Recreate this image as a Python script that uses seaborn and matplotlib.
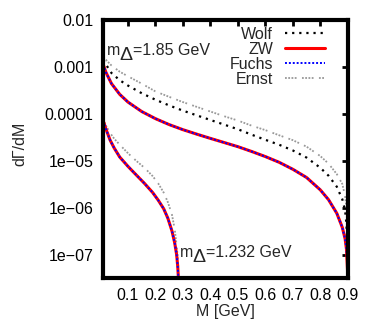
import seaborn as sns
import pandas as pd
import matplotlib.pyplot as plt
from matplotlib.ticker import FixedLocator, NullLocator

# m_Delta = 1.85 GeV
mass_185 = [0.01, 0.02, 0.04, 0.07, 0.1, 0.15, 0.2, 0.25, 0.3, 0.35, 0.4, 0.45, 0.5,
            0.55, 0.6, 0.65, 0.7, 0.75, 0.8, 0.83, 0.86, 0.88, 0.89, 0.895, 0.899]
wolf_185 = [1.41e-3, 1.12e-3, 7.4e-4, 5.2e-4, 4.0e-4, 2.75e-4, 2.0e-4, 1.51e-4, 1.17e-4,
            9.3e-5, 7.4e-5, 5.9e-5, 4.7e-5, 3.6e-5, 2.8e-5, 2.2e-5, 1.66e-5, 1.17e-5,
            7.1e-6, 4.8e-6, 2.8e-6, 1.51e-6, 8.9e-7, 4.5e-7, 1.0e-7]
zw_185 = [1.12e-3, 7.6e-4, 4.4e-4, 2.6e-4, 1.78e-4, 1.12e-4, 7.9e-5, 5.9e-5, 4.6e-5,
          3.7e-5, 3.0e-5, 2.45e-5, 2.0e-5, 1.58e-5, 1.23e-5, 9.3e-6, 6.6e-6, 4.4e-6,
          2.4e-6, 1.48e-6, 7.6e-7, 3.8e-7, 2.2e-7, 1.32e-7, 4.5e-8]
fuchs_185 = zw_185  # indistinguishable from ZW at this scale
ernst_185 = [1.58e-3, 1.41e-3, 1.07e-3, 7.9e-4, 6.3e-4, 4.4e-4, 3.0e-4, 2.3e-4, 1.78e-4,
             1.41e-4, 1.12e-4, 8.9e-5, 7.2e-5, 5.6e-5, 4.5e-5, 3.5e-5, 2.75e-5, 2.0e-5,
             1.26e-5, 8.7e-6, 5.2e-6, 3.2e-6, 1.78e-6, 1.0e-6, 4.0e-7]

# m_Delta = 1.232 GeV
mass_1232 = [0.01, 0.02, 0.035, 0.05, 0.07, 0.1, 0.13, 0.16, 0.19, 0.21, 0.23, 0.245,
             0.26, 0.27, 0.277, 0.281, 0.284]
zw_1232 = [7.1e-5, 4.7e-5, 2.75e-5, 1.86e-5, 1.2e-5, 7.6e-6, 5.0e-6, 3.3e-6, 2.1e-6,
           1.45e-6, 9.5e-7, 6.0e-7, 3.2e-7, 1.78e-7, 1.0e-7, 5.6e-8, 2.8e-8]
fuchs_1232 = zw_1232
mass_1232_ernst = [0.01, 0.02, 0.035, 0.05, 0.07, 0.1, 0.13, 0.16, 0.19, 0.21, 0.23,
                   0.245, 0.26, 0.27, 0.277, 0.281, 0.283]
ernst_1232 = [7.6e-5, 5.6e-5, 3.9e-5, 2.95e-5, 2.2e-5, 1.45e-5, 1.0e-5, 7.1e-6, 4.7e-6,
              3.3e-6, 2.1e-6, 1.32e-6, 7.1e-7, 3.5e-7, 1.58e-7, 8.9e-8, 5.6e-8]

y_ticks = [1e-7, 1e-6, 1e-5, 1e-4, 1e-3, 1e-2]
y_tick_labels = ["1e\u221207", "1e\u221206", "1e\u221205", "0.0001", "0.001", "0.01"]
x_ticks = [0.1, 0.2, 0.3, 0.4, 0.5, 0.6, 0.7, 0.8, 0.9]

fs = 11.5
W, H = 374, 327

sns.set_theme(style="white")
plt.rcParams["font.family"] = ["Liberation Sans", "DejaVu Sans"]
plt.rcParams["font.size"] = fs

fig = plt.figure(figsize=(W / 100, H / 100), dpi=100)
ax = fig.add_axes([0.275, 0.150, 0.655, 0.789])

wolf_style = dict(color="black", lw=1.6, dashes=(1, 2.2))
zw_style = dict(color="#ff0000", lw=2.2)
fuchs_style = dict(color="#0000ff", lw=1.4, dashes=(1, 1))
ernst_style = dict(color="#999999", lw=1.3, dashes=(1, 0.8, 1, 0.8, 1, 0.8, 1, 3))

sns.lineplot(x=mass_185, y=wolf_185, ax=ax, label="Wolf", **wolf_style)
sns.lineplot(x=mass_185, y=zw_185, ax=ax, label="ZW", **zw_style)
sns.lineplot(x=mass_185, y=fuchs_185, ax=ax, label="Fuchs", **fuchs_style)
sns.lineplot(x=mass_185, y=ernst_185, ax=ax, label="Ernst", **ernst_style)

sns.lineplot(x=mass_1232_ernst, y=ernst_1232, ax=ax, **ernst_style)
sns.lineplot(x=mass_1232, y=zw_1232, ax=ax, **zw_style)
sns.lineplot(x=mass_1232, y=fuchs_1232, ax=ax, **fuchs_style)

ax.set_yscale("log")
ax.set_xlim(0.0085, 0.9)
ax.set_ylim(3.2e-8, 1e-2)
ax.yaxis.set_major_locator(FixedLocator(y_ticks))
ax.yaxis.set_minor_locator(NullLocator())
ax.set_yticks(y_ticks, y_tick_labels)
ax.set_xticks(x_ticks, [str(v) for v in x_ticks])

for s in ax.spines.values():
    s.set_linewidth(3)
    s.set_color("black")
ax.tick_params(which="both", direction="in", length=4, width=2, top=True, right=True,
               labelsize=fs, colors="black")
ax.tick_params(axis="x", pad=7)
ax.tick_params(axis="y", pad=7)

ax.set_xlabel("M [GeV]", fontsize=fs)
ax.set_ylabel("d\u0393/dM", fontsize=fs)
ax.xaxis.set_label_coords(0.5, -0.1)
ax.yaxis.set_label_coords(-0.31, 0.52)


# m_Delta labels, placed in pixels like the original (m, big subscript Delta, rest)
def mass_label(x, y, rest):
    fig.text(x / W, 1 - y / H, "m", fontsize=fs, va="baseline")
    fig.text((x + 12) / W, 1 - (y + 5) / H, "\u0394", fontsize=14, va="baseline")
    fig.text((x + 26) / W, 1 - y / H, rest, fontsize=fs, va="baseline")


mass_label(107, 55, "=1.85 GeV")
mass_label(180, 257, "=1.232 GeV")

ax.legend(loc="upper right", bbox_to_anchor=(0.94, 1.005), frameon=False,
          markerfirst=False, handlelength=2.5, handletextpad=0.75,
          labelspacing=0.0, borderpad=0, fontsize=fs)

fig.savefig("out.png", dpi=100)
